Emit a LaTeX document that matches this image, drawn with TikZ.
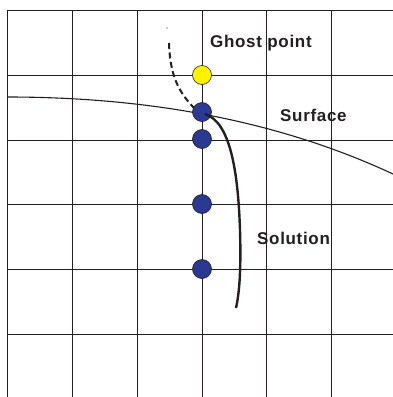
\documentclass[tikz,border=0pt]{standalone}
\usepackage{fontspec}
\setmainfont{Liberation Sans}
\newfontfamily\lblfont[LetterSpace=4]{Liberation Sans}
\definecolor{gridc}{HTML}{231F20}
\definecolor{dotblue}{HTML}{2B3990}
\definecolor{dotyellow}{HTML}{FFF200}
\begin{document}
\begin{tikzpicture}[x=1pt,y=-1pt,
  gridline/.style={draw=gridc,line width=1pt},
  dot/.style={circle,draw=gridc,line width=0.6pt,minimum size=19pt,inner sep=0pt},
  lbl/.style={text=gridc,font=\lblfont\fontsize{17}{20}\selectfont\bfseries,inner sep=0pt,anchor=west}]
\useasboundingbox (0,0) rectangle (393,397);
\fill[white] (0,0) rectangle (393,397);
% grid
\foreach \x in {7,72,137,202,266,331}
  \draw[gridline] (\x,10) -- (\x,397);
\foreach \y in {10,75,140,204,269,334}
  \draw[gridline] (7,\y) -- (393,\y);
% surface
\draw[gridc,line width=1.1pt] (7,97) .. controls (120,97) and (260,112) .. (393,174);
% dashed curve
\draw[gridc,line width=2pt,dash pattern=on 6pt off 3.5pt] (169,43) .. controls (170,75) and (178,92) .. (196,110);
\fill[gridc] (167,28) circle (0.6pt);
% dots
\node[dot,fill=dotyellow] (g) at (202,75) {};
\node[dot,fill=dotblue] (b1) at (202,112) {};
\node[dot,fill=dotblue] (b2) at (202,139) {};
\node[dot,fill=dotblue] (b3) at (202,204) {};
\node[dot,fill=dotblue] (b4) at (202,269) {};
% solution curve
\coordinate (solend) at (236,308);
\draw[gridc,line width=2.4pt] (205,114) .. controls (230,122) and (238,170) .. (240,230) .. controls (241,265) and (240,290) .. (solend);
% labels
\node[lbl] (tg) at (210,43) {Ghost point};
\node[lbl] (ts) at (280,115) {Surface};
\node[lbl] (tsol) at (257,238) {Solution};
\end{tikzpicture}
\end{document}
